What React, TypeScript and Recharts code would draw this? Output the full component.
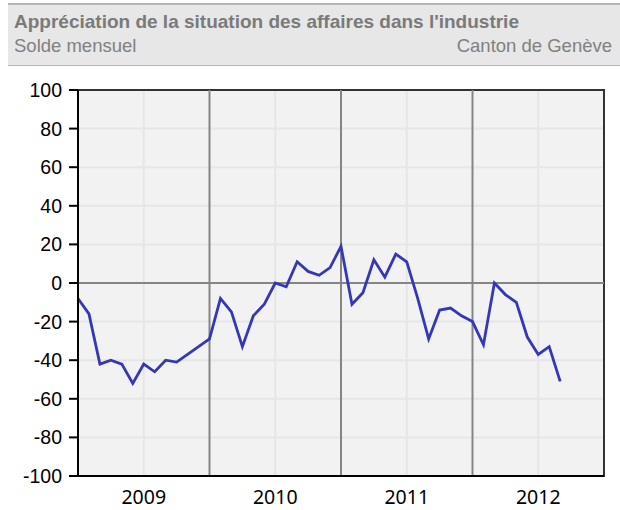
import React from 'react';
import { LineChart, Line, XAxis, YAxis, CartesianGrid, ReferenceLine, ReferenceArea } from 'recharts';

// solde mensuel, janvier 2009 -> septembre 2012
const values = [
    -8, -16, -42, -40, -42, -52, -42, -46, -40, -41, -37, -33,
    -29, -8, -15, -33, -17, -11, 0, -2, 11, 6, 4, 8,
    19, -11, -5, 12, 3, 15, 11, -8, -29, -14, -13, -17,
    -20, -32, 0, -6, -10, -28, -37, -33, -51,
];
const years = ['2009', '2010', '2011', '2012'];
const yTicks = [-100, -80, -60, -40, -20, 0, 20, 40, 60, 80, 100];
const yearLabelTicks = [6, 18, 30, 42];
const yearBreaks = [12, 24, 36];

const data = values.map((v, i) => ({ month: i, solde: v }));

const xTickFont = { fontFamily: '"Noto Sans", sans-serif', fontSize: 19.5, fill: '#000' };
const yTickFont = { fontFamily: '"Liberation Sans", Arial, sans-serif', fontSize: 19.5, fill: '#000' };

const App = () => {
    return (
        <div style={{ position: 'absolute', left: 0, top: 0, width: 620, height: 510, background: '#fff' }}>
            <div
                style={{
                    position: 'absolute',
                    left: 8,
                    top: 3,
                    width: 612,
                    height: 60,
                    background: '#e7e7e7',
                    borderTop: '2px solid #b4b4b4',
                    borderBottom: '1px solid #b4b4b4',
                    fontFamily: '"Liberation Sans", Arial, sans-serif',
                    color: '#808080',
                    whiteSpace: 'nowrap',
                }}
            >
                <div style={{ position: 'absolute', left: 6, top: 6, fontSize: 19, fontWeight: 'bold', color: '#7a7a7a' }}>
                    Appréciation de la situation des affaires dans l'industrie
                </div>
                <div style={{ position: 'absolute', left: 6, top: 30, fontSize: 18.5 }}>Solde mensuel</div>
                <div style={{ position: 'absolute', right: 8, top: 30, fontSize: 18.5 }}>Canton de Genève</div>
            </div>
            <div style={{ position: 'absolute', left: 0, top: 0 }}>
                <LineChart width={620} height={510} data={data} margin={{ top: 90, right: 16, bottom: 0, left: 0 }}>
                    <CartesianGrid fill="#f2f2f2" stroke="#e6e6e6" strokeWidth={2} />
                    <XAxis
                        dataKey="month"
                        type="number"
                        domain={[0, 48]}
                        ticks={yearLabelTicks}
                        tickFormatter={(v: number) => years[Math.floor(v / 12)]}
                        tickLine={false}
                        tickSize={0}
                        tickMargin={14}
                        height={34}
                        axisLine={{ stroke: '#000', strokeWidth: 2 }}
                        tick={xTickFont}
                    />
                    <YAxis
                        type="number"
                        domain={[-100, 100]}
                        ticks={yTicks}
                        width={78}
                        interval={0}
                        tickSize={9}
                        tickMargin={7}
                        tickLine={{ stroke: '#000', strokeWidth: 2 }}
                        axisLine={{ stroke: '#000', strokeWidth: 2 }}
                        tick={yTickFont}
                    />
                    {yearBreaks.map((x) => (
                        <ReferenceLine key={x} x={x} stroke="#858585" strokeWidth={2} />
                    ))}
                    <ReferenceLine y={0} stroke="#858585" strokeWidth={2} />
                    <ReferenceArea x1={0} x2={48} y1={-100} y2={100} fill="none" stroke="#333" strokeWidth={2} />
                    <Line
                        type="linear"
                        dataKey="solde"
                        stroke="#3636b8"
                        strokeWidth={2.8}
                        dot={false}
                        isAnimationActive={false}
                    />
                </LineChart>
            </div>
        </div>
    );
};

export default App;
